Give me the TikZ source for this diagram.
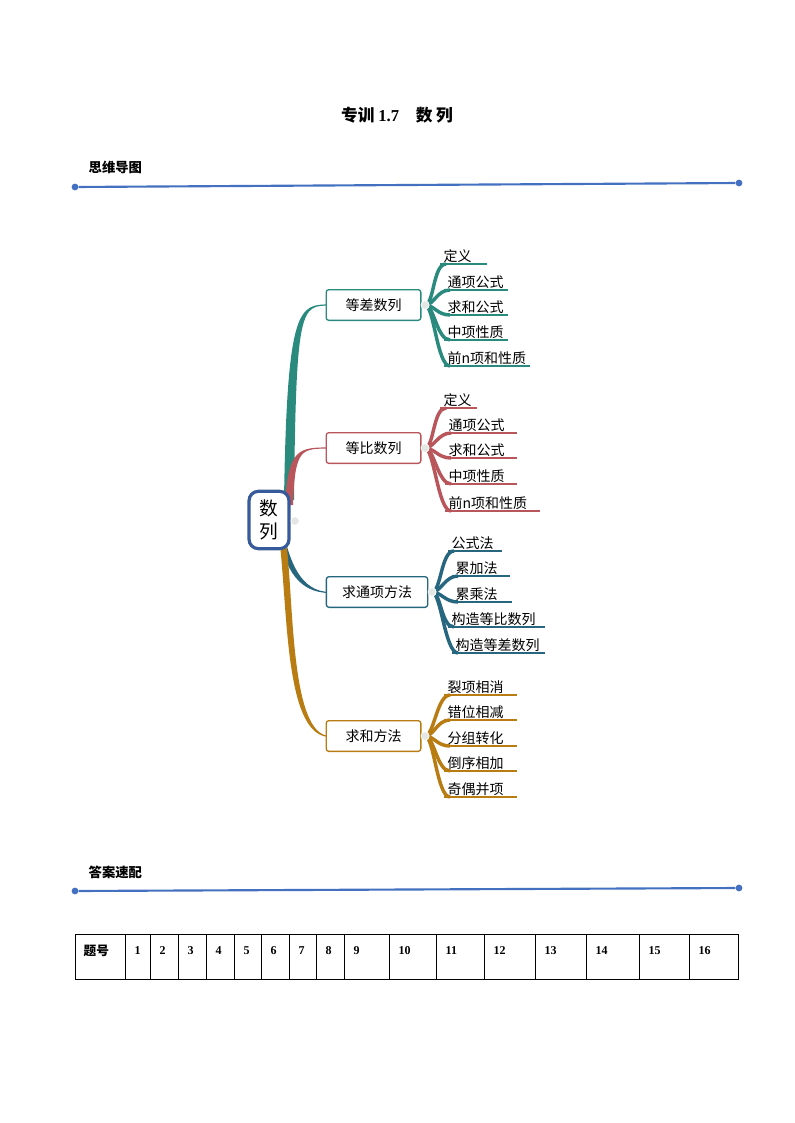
\documentclass[tikz,border=0pt]{standalone}
\usepackage{fontspec}
\setmainfont{Liberation Serif}
\newfontfamily\cjk{Noto Sans CJK SC}
\begin{document}
\begin{tikzpicture}[x=0.75pt,y=-0.75pt,
  hd/.style={font=\cjk\bfseries\fontsize{10}{12}\selectfont,anchor=west},
  rule/.style={draw=rl,line width=1.6pt},
  dot/.style={circle,fill=rl,inner sep=1.8pt},
  box/.style={draw=#1,fill=white,rounded corners=2pt,line width=1pt,minimum height=23pt,font=\cjk\fontsize{10.5}{12}\selectfont,text=black},
  leaf/.style={font=\cjk\fontsize{10.5}{12}\selectfont,anchor=south west,inner sep=1pt},
  hub/.style={circle,fill=green!5!gray!20,draw=white,inner sep=2.2pt}]
\definecolor{rl}{RGB}{68,112,192}
\definecolor{cA}{RGB}{42,138,126}
\definecolor{cB}{RGB}{184,86,92}
\definecolor{cC}{RGB}{38,102,126}
\definecolor{cD}{RGB}{184,124,18}
\useasboundingbox (0,0) rectangle (794,1123);
\newcommand\mmtaper[6]{\fill[#1] (#2-#6,#3) .. controls (#2-#6+3,#5) and (#2+10,#5-0.6) .. (#4,#5-0.6) -- (#4,#5+0.6) .. controls (#2+12,#5+0.6) and (#2+#6+2,#5) .. (#2+#6,#3) -- cycle;}
% headings
\node[font=\cjk\bfseries\fontsize{12.5}{14}\selectfont] (title) at (397,115) {专训 {\rmfamily\bfseries 1.7}\quad 数\ 列};
\node[hd] (h1) at (84,167) {思维导图};
\node[dot] (a1) at (75,187) {}; \node[dot] (a2) at (739,183) {};
\draw[rule] (a1) -- (a2);
\node[hd] (h2) at (84,872) {答案速配};
\node[dot] (b1) at (75,891) {}; \node[dot] (b2) at (739,888) {};
\draw[rule] (b1) -- (b2);
% main branches
\mmtaper{cA}{289}{500}{330}{305}{5}
\mmtaper{cB}{289}{505}{330}{448}{4}
\fill[cC] (284,535) .. controls (290,560) and (300,592) .. (330,592) -- (330,593) .. controls (298,593) and (286,568) .. (280,540) -- cycle;
\fill[cD] (286,540) .. controls (294,600) and (290,736) .. (330,736) -- (330,737) .. controls (286,737) and (288,620) .. (280,545) -- cycle;
\node[draw=rl!80!black,line width=2.4pt,rounded corners=7pt,fill=white,minimum width=30pt,minimum height=43pt,inner sep=2pt,align=center,font=\cjk\fontsize{14}{17}\selectfont] (root) at (269,520) {数\\列};
\node[hub] at (295,521) {};
\newcommand\grp[5]{%
  \foreach \t/\ly/\lx/\le [count=\i] in {#5}{%
    \draw[#3,line width=2.6pt] (#1,#2) .. controls (#1+9,#2) and (\lx+1,\ly) .. (\lx+14,\ly);
    \draw[#3,line width=1.1pt] (\lx+8,\ly) -- (\le,\ly);
    \node[leaf] (#4\i) at (\lx+10,\ly) {\t};
  }%
  \node[hub] (#4h) at (#1,#2) {};}
\grp{425}{305}{cA}{ga}{定义/264/432/487, 通项公式/290/436/508, 求和公式/315/436/508, 中项性质/340/436/508, 前n项和性质/366/436/530}
\grp{425}{448}{cB}{gb}{定义/408/432/477, 通项公式/433/437/517, 求和公式/458/437/517, 中项性质/484/437/517, 前n项和性质/511/437/540}
\grp{432}{592}{cC}{gc}{公式法/551/440/502, 累加法/576/444/510, 累乘法/602/444/512, 构造等比数列/627/440/545, 构造等差数列/653/444/545}
\grp{425}{736}{cD}{gd}{裂项相消/695/436/517, 错位相减/720/436/517, 分组转化/746/436/517, 倒序相加/771/436/517, 奇偶并项/797/436/517}
\node[box=cA,minimum width=71pt] (b1n) at (373.5,305) {等差数列};
\node[box=cB,minimum width=71pt] (b2n) at (373.5,448) {等比数列};
\node[box=cC,minimum width=76pt] (b3n) at (377,592) {求通项方法};
\node[box=cD,minimum width=71pt] (b4n) at (373.5,736) {求和方法};
\foreach \g in {ga,gb,gc,gd}{\node[hub] at (\g h) {};}
% table
\draw[line width=0.7pt] (75,934) rectangle (738,979);
\foreach \x in {125,150,178,206,234,261,289,316,344,389,436,484,535,586,639,689}{\draw[line width=0.6pt] (\x,934) -- (\x,979);}
\node[font=\cjk\bfseries\fontsize{9.5}{11}\selectfont,anchor=west] (t0) at (79,951) {题号};
\foreach \x/\n [count=\i] in {125/1,150/2,178/3,206/4,234/5,261/6,289/7,316/8,344/9,389/10,436/11,484/12,535/13,586/14,639/15,689/16}{\node[font=\bfseries\fontsize{9}{11}\selectfont,anchor=west] (t\i) at (\x+5,951) {\n};}
\end{tikzpicture}
\end{document}
